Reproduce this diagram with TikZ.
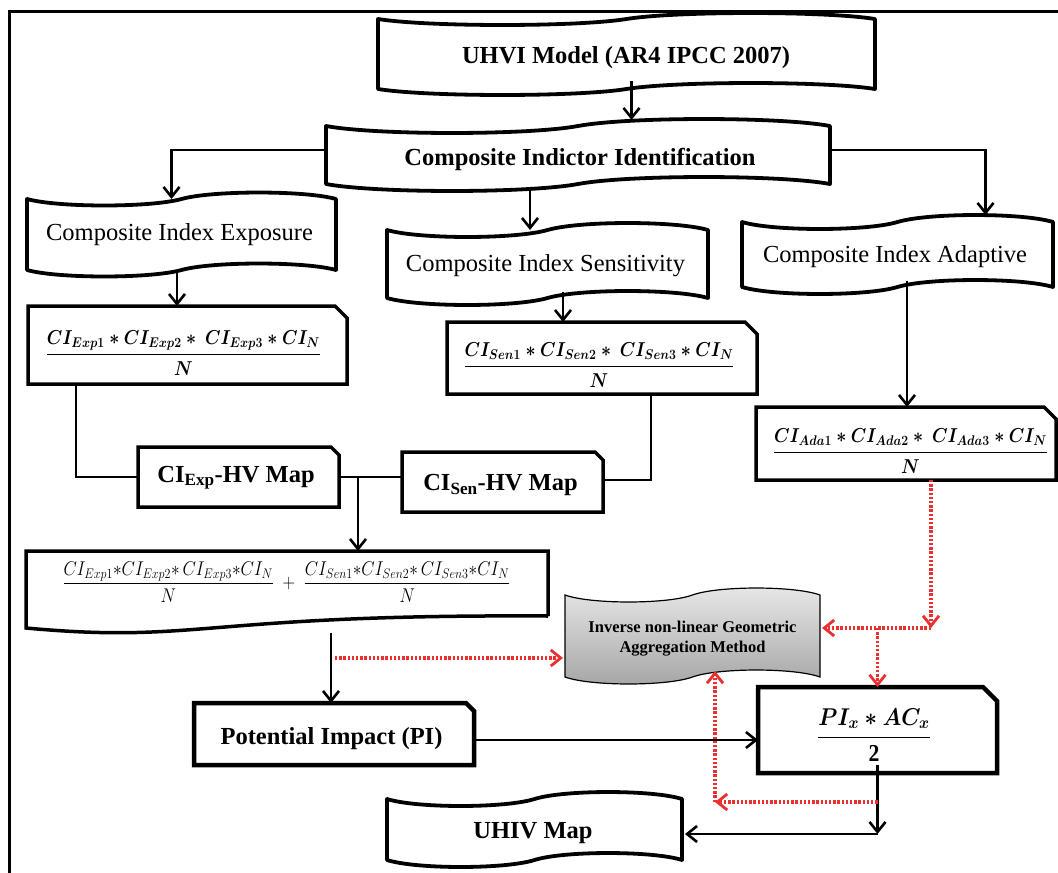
\RequirePackage{fix-cm}
\documentclass[tikz,border=0pt]{standalone}
\usepackage{amsmath}
\usepackage{graphicx}
\usepackage{fontspec}
\setmainfont{Liberation Serif}
\usetikzlibrary{arrows.meta,calc}
\pgfdeclarelayer{background}
\pgfsetlayers{background,main}
\definecolor{redd}{RGB}{236,48,48}
\definecolor{gtop}{RGB}{232,232,232}
\definecolor{gbot}{RGB}{165,165,165}
\tikzset{
 box/.style={inner sep=0pt, outer sep=0pt},
 tapeline/.style={draw, line width=3.8pt, line join=round},
 snipline/.style={draw, line width=3.5pt, line join=miter},
 thickline/.style={draw, line width=4.5pt, line join=miter},
 arr/.style={line width=2.8pt, -{Straight Barb[length=10pt,width=16pt,line width=2.6pt]}},
 link/.style={line width=2.8pt},
 redarr/.style={draw=redd, line width=3.4pt, dash pattern=on 2.4pt off 1.8pt, -{Straight Barb[length=10pt,width=16pt,line width=2.8pt]}},
 tc/.style={inner sep=0pt, text height=16pt, text depth=0pt},
 lbl/.style={tc, font=\fontsize{24.5}{28}\selectfont},
 blbl/.style={tc, font=\fontsize{24.5}{28}\selectfont\bfseries},
 mth/.style={inner sep=0pt, font=\fontsize{17.5}{21}\selectfont\boldmath},
}
\newcommand\tapeshape[3][]{%
 \path[#1] (#2.north west) .. controls ($(#2.north west)!0.2!(#2.north)+(0,1.33*#3)$) and ($(#2.north west)!0.8!(#2.north)+(0,1.33*#3)$) .. (#2.north)
 .. controls ($(#2.north)!0.2!(#2.north east)+(0,-1.33*#3)$) and ($(#2.north)!0.8!(#2.north east)+(0,-1.33*#3)$) .. (#2.north east)
 -- (#2.south east) .. controls ($(#2.south east)!0.2!(#2.south)+(0,-1.33*#3)$) and ($(#2.south east)!0.8!(#2.south)+(0,-1.33*#3)$) .. (#2.south)
 .. controls ($(#2.south)!0.2!(#2.south west)+(0,1.33*#3)$) and ($(#2.south)!0.8!(#2.south west)+(0,1.33*#3)$) .. (#2.south west) -- cycle;}
\newcommand\snipshape[3][]{%
 \path[#1] (#2.south west) -- (#2.north west) -- ($(#2.north east)+(-#3,0)$) -- ($(#2.north east)+(0,#3)$) -- (#2.south east) -- cycle;}
\newcommand\cifrac[1]{\scalebox{1}[1.15]{$\dfrac{CI_{#11} * CI_{#12} *\ CI_{#13} * CI_N}{N}$}}
\newcommand\cifracs[1]{\dfrac{CI_{#11}{*}CI_{#12}{*}\,CI_{#13}{*}CI_N}{N}}
\begin{document}
\begin{tikzpicture}[x=1pt,y=-1pt]
\useasboundingbox (0,0) rectangle (1058,873);
% frame
\draw[line width=3pt] (1058,11) -- (9,11) -- (9,873);

% tape boxes
\node[box,minimum width=497pt,minimum height=70pt] (uhvi) at (626.5,54) {};
\tapeshape[tapeline]{uhvi}{6}
\node[blbl] (uhvit) at (626,55) {UHVI Model (AR4 IPCC 2007)};
\node[box,minimum width=504pt,minimum height=58pt] (cii) at (578,155) {};
\tapeshape[tapeline]{cii}{7}
\node[blbl] (ciit) at (580,157) {Composite Indictor Identification};
\node[box,minimum width=309pt,minimum height=71pt] (exp) at (181.5,234.5) {};
\tapeshape[tapeline]{exp}{6.5}
\node[lbl] (expt) at (179.5,232) {Composite Index Exposure};
\node[box,minimum width=321pt,minimum height=68pt] (sen) at (547.5,264) {};
\tapeshape[tapeline]{sen}{7}
\node[lbl] (sent) at (545.5,263.5) {Composite Index Sensitivity};
\node[box,minimum width=311pt,minimum height=65pt] (ada) at (897.5,254.5) {};
\tapeshape[tapeline]{ada}{7}
\node[lbl] (adat) at (895,254) {Composite Index Adaptive};
\node[box,minimum width=295pt,minimum height=61pt] (uhiv) at (534.5,829.5) {};
\tapeshape[tapeline]{uhiv}{7}
\node[blbl] (uhivt) at (533,830) {UHIV Map};

% inverse box
\node[box,minimum width=255pt,minimum height=82pt] (inv) at (692.5,636) {};
\begin{pgfonlayer}{background}
\tapeshape[draw,line width=1.2pt,top color=gtop,bottom color=gbot]{inv}{7}
\end{pgfonlayer}
\node[align=center,inner sep=0pt,font=\fontsize{16.5}{20}\selectfont\bfseries] (invt) at (692.5,638.5) {Inverse non-linear Geometric\\Aggregation Method};

% snipped boxes
\node[box,minimum width=319pt,minimum height=78pt] (fexp) at (187.5,345) {};
\snipshape[snipline]{fexp}{12}
\node[mth] (fexpt) at (183.5,353) {\cifrac{Exp}};
\node[box,minimum width=310pt,minimum height=72pt] (fsen) at (602,358) {};
\snipshape[snipline]{fsen}{12}
\node[mth] (fsent) at (599,365) {\cifrac{Sen}};
\node[box,minimum width=300pt,minimum height=73pt] (fada) at (906,443.5) {};
\snipshape[snipline]{fada}{12}
\node[mth] (fadat) at (910.5,451) {\cifrac{Ada}};
\node[box,minimum width=201pt,minimum height=60pt] (hvexp) at (238.5,477) {};
\snipshape[snipline]{hvexp}{8}
\node[blbl] (hvexpt) at (236,474) {CI\textsubscript{Exp}-HV Map};
\node[box,minimum width=201pt,minimum height=60pt] (hvsen) at (502.5,482) {};
\snipshape[snipline]{hvsen}{8}
\node[blbl] (hvsent) at (500.5,482.5) {CI\textsubscript{Sen}-HV Map};
\node[box,minimum width=280pt,minimum height=62pt] (pi) at (334,734) {};
\snipshape[thickline]{pi}{8}
\node[blbl] (pit) at (331.5,736) {Potential Impact (PI)};
\node[box,minimum width=239pt,minimum height=86pt] (pix) at (877.5,730) {};
\snipshape[thickline]{pix}{14}
\node[inner sep=0pt,font=\fontsize{21.7}{26}\selectfont\boldmath] (pixt) at (874,735) {\scalebox{1}[1.12]{$\dfrac{PI_x * AC_x}{\textbf{2}}$}};

% sum box
\node[box,minimum width=522pt,minimum height=77pt] (sum) at (287,589.5) {};
\draw[line width=3.5pt, line join=miter] ($(sum.south east)+(0,-12)$) -- (sum.north east) -- (sum.north west) -- (sum.south west)
  .. controls ($(sum.south west)+(174,16)$) and ($(sum.south east)+(-348,-14)$) .. ($(sum.south east)+(0,-12)$);
\node[inner sep=0pt,font=\fontsize{17.3}{20}\selectfont] (sumf) at (286.5,582) {\scalebox{1}[1.15]{$\cifracs{Exp}\;+\;\cifracs{Sen}$}};

% connectors
\draw[arr] ([xshift=5pt,yshift=8pt]uhvi.south) -- ([xshift=5pt,yshift=6pt]uhvi.south |- cii.north);
\draw[arr] ([yshift=5pt]cii.west) -| ([xshift=-10pt]exp.north);
\draw[arr] ([xshift=-48pt,yshift=-6pt]cii.south) -- ([xshift=-48pt]cii.south |- sen.north);
\draw[arr] ([yshift=5pt]cii.east) -| ([xshift=88pt,yshift=7pt]ada.north);
\draw[arr] ([xshift=-4.5pt,yshift=-3pt]exp.south) -- ([xshift=-4.5pt]exp.south |- fexp.north);
\draw[arr] ([xshift=15.5pt,yshift=6pt]sen.south) -- ([xshift=15.5pt]sen.south |- fsen.north);
\draw[arr] ([xshift=9.5pt,yshift=6pt]ada.south) -- ([xshift=9.5pt]ada.south |- fada.north);
\draw[link] ([xshift=-111.5pt]fexp.south) |- (hvexp.west);
\draw[link] ([xshift=49pt]fsen.south) |- ([yshift=2pt]hvsen.east);
\draw[link] (hvexp.east) -- (hvexp.east -| hvsen.west);
\draw[arr] ([xshift=19pt]hvexp.east) -- ([xshift=19pt]hvexp.east |- sum.north);
\draw[arr] ($(pi.north |- sum.south)+(-3,5)$) -- ($(pi.north)+(-3,0)$);
\draw[redarr] ($(pi.north)+(1,-45)$) -- ($(inv.west)+(-2,22)$);
\coordinate (pie) at ($(pi.east)+(0,6)$);
\draw[arr] (pie) -- (pie -| pix.west);
\coordinate (rj) at ($(fada.south)+(25,148)$);
\draw[redarr] ($(fada.south)+(25,0)$) -- (rj);
\draw[redarr] (rj) -- ($(rj -| inv.east)+(2,0)$);
\draw[redarr] (rj -| pix.north) -- (pix.north);
\coordinate (bj) at ($(pix.south)+(0,61)$);
\draw[arr] ($(pix.south)+(0,-8)$) -- (bj);
\draw[arr] (bj) -- ($(bj -| uhiv.east)+(3,0)$);
\coordinate (rb) at ($(pix.south)+(0,29)$);
\coordinate (rcx) at ($(inv.south)+(22.5,-6)$);
\draw[redarr] (rb) -- (rb -| rcx);
\draw[redarr] (rb -| rcx) -- (rcx);
\end{tikzpicture}
\end{document}
